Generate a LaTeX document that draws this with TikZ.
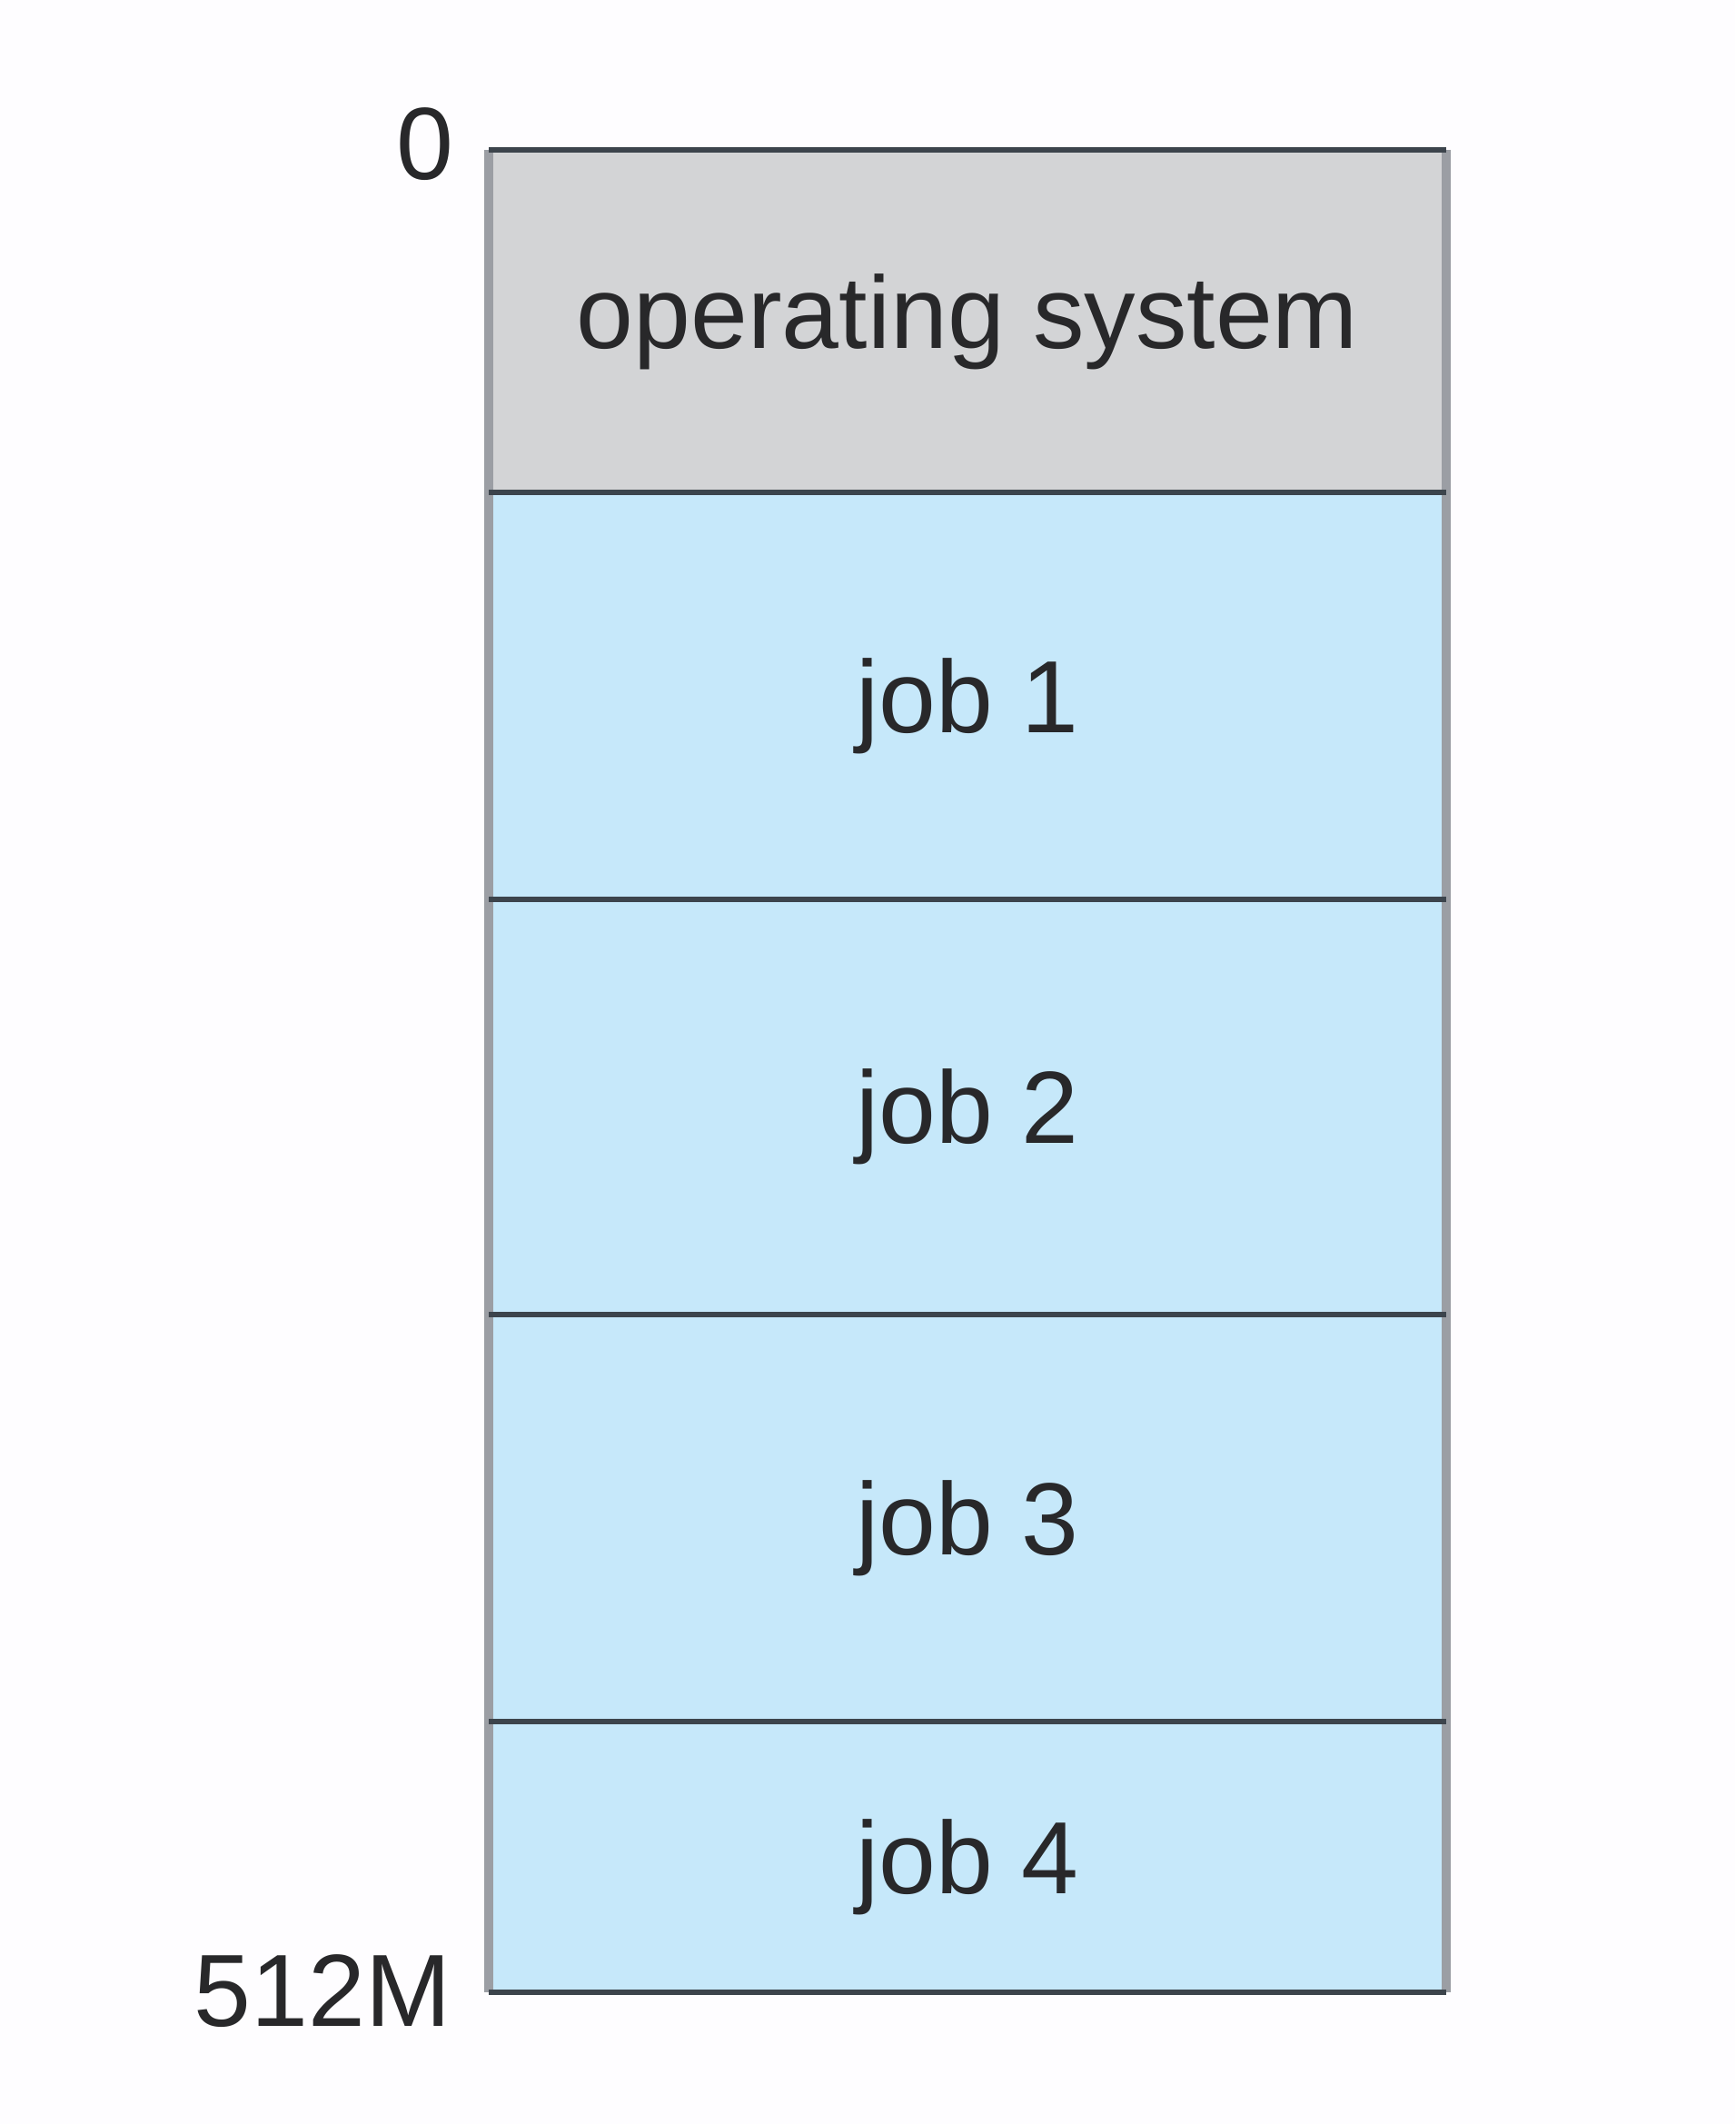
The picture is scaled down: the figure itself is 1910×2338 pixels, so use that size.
\documentclass[tikz,border=0pt]{standalone}
\usepackage{fontspec}
\setmainfont{Liberation Sans}
\definecolor{bgc}{RGB}{254,253,255}
\definecolor{osgray}{RGB}{211,212,214}
\definecolor{jobblue}{RGB}{198,232,250}
\definecolor{sidec}{RGB}{155,158,164}
\definecolor{divc}{RGB}{60,68,76}
\definecolor{txtc}{RGB}{40,40,42}
\begin{document}
\begin{tikzpicture}[x=0.5pt,y=-0.5pt,
  block/.style={inner sep=0pt, outer sep=0pt, minimum width=527pt, anchor=north west,
    text=txtc, font=\fontsize{56.5}{68}\selectfont},
  osblock/.style={block, fill=osgray, text height=30pt, text depth=0pt},
  jobblock/.style={block, fill=jobblue, text height=40pt, text depth=0pt},
  sideline/.style={draw=sidec, line width=5pt},
  divline/.style={draw=divc, line width=3pt},
  addr/.style={inner sep=0pt, anchor=base east, text=txtc, font=\fontsize{56.5}{68}\selectfont}]
\fill[bgc] (0,0) rectangle (1910,2338);
\useasboundingbox (0,0) rectangle (1910,2338);
\node[osblock, minimum height=188.5pt] (os) at (538,165) {operating system};
\node[jobblock, minimum height=224pt] (j1) at (os.south west) {job 1};
\node[jobblock, minimum height=228.5pt] (j2) at (j1.south west) {job 2};
\node[jobblock, minimum height=224pt] (j3) at (j2.south west) {job 3};
\node[jobblock, minimum height=149pt] (j4) at (j3.south west) {job 4};
\draw[sideline] (os.north west) -- (j4.south west);
\draw[sideline] (os.north east) -- (j4.south east);
\draw[divline] (os.north west) -- (os.north east);
\draw[divline] (os.south west) -- (os.south east);
\draw[divline] (j1.south west) -- (j1.south east);
\draw[divline] (j2.south west) -- (j2.south east);
\draw[divline] (j3.south west) -- (j3.south east);
\draw[divline] (j4.south west) -- (j4.south east);
\node[addr] (l0) at (500,198) {0};
\node[addr] (l512) at (497,2230) {512M};
\end{tikzpicture}
\end{document}
